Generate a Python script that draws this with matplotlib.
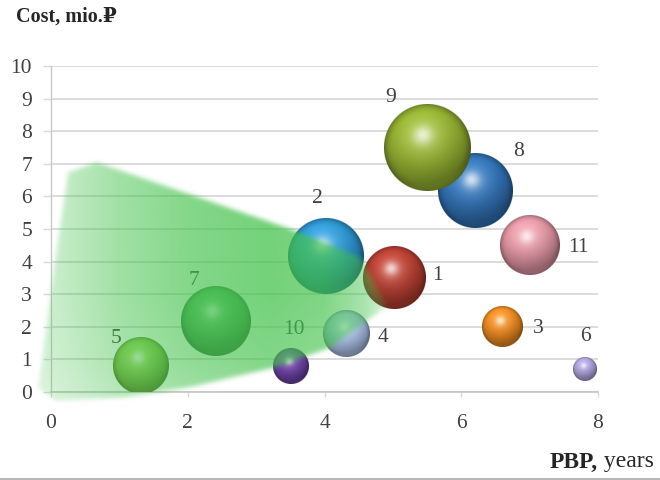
import numpy as np
import matplotlib
matplotlib.use("Agg")
import matplotlib.pyplot as plt
import matplotlib.colors as mcolors
from matplotlib.path import Path
from matplotlib.lines import Line2D

# ---- data -------------------------------------------------------------
projects = ["1", "2", "3", "4", "5", "6", "7", "8", "9", "10", "11"]
pbp_years = [5.01, 4.02, 6.61, 4.31, 1.32, 7.81, 2.41, 6.21, 5.51, 3.51, 7.00]
cost_mio = [3.51, 4.18, 2.00, 1.78, 0.80, 0.71, 2.18, 6.18, 7.51, 0.80, 4.49]
bubble_size = [5.08, 7.63, 2.22, 2.80, 4.14, 0.76, 6.47, 7.43, 10.0, 1.71, 4.66]
bubble_colors = ["#B53D30", "#2C95CF", "#E8871E", "#A8BCE2", "#8CC04C", "#A99DD6",
                 "#52A862", "#3171B4", "#92AE30", "#6B40A2", "#DE93A0"]

x_ticks = [0, 2, 4, 6, 8]
y_ticks = list(range(0, 11))

# outline of the shaded "preferred" zone
zone_x = [0.67, 3.50, 4.53, 4.92, 4.09, 3.28, 2.07, 1.08, 0.06, -0.19, 0.06, 0.25]
zone_y = [7.02, 4.98, 4.11, 2.62, 1.35, 0.74, 0.15, -0.18, -0.28, 0.12, 4.05, 6.72]

# label offsets (points) relative to each bubble centre
label_dx = [31.7, -5.8, 25.2, 26.6, -18.0, 0.0, -15.8, 31.0, -26.6, 2.2, 35.3]
label_dy = [1.4, 41.0, -1.4, -2.2, 19.4, 23.0, 28.8, 28.1, 36.0, 25.9, -1.4]

SERIF = ["Liberation Serif", "DejaVu Serif"]
R_MAX_PX = 43.5
GRID = "#D9D9D9"
TXT = "#404040"

fig = plt.figure(figsize=(6.6, 4.8), dpi=100)
ax = fig.add_axes([51 / 660, 88 / 480, 547 / 660, 326 / 480])
ax.set_xlim(0, 8)
ax.set_ylim(0, 10)

# ---- axes styling -----------------------------------------------------
ax.set_xticks(x_ticks)
ax.set_yticks(y_ticks)
ax.set_xticklabels([str(v) for v in x_ticks], family=SERIF, fontsize=15.5, color=TXT)
ax.set_yticklabels([str(v) for v in y_ticks], family=SERIF, fontsize=15.5, color=TXT)
ax.tick_params(axis="y", length=5.6, width=1.0, color=GRID, pad=8)
ax.tick_params(axis="x", length=3.8, width=1.0, color=GRID, pad=12)
ax.grid(axis="y", color=GRID, lw=1.3, zorder=0.5)
ax.set_axisbelow(True)
for side in ("top", "right"):
    ax.spines[side].set_visible(False)
ax.spines["left"].set_color("#C8C8C8")
ax.spines["bottom"].set_color("#C8C8C8")
ax.spines["left"].set_linewidth(1.0)
ax.spines["bottom"].set_linewidth(1.3)


# ---- shaded spheres ---------------------------------------------------
def sphere_image(color, n=200):
    base = np.array(mcolors.to_rgb(color))
    t = (np.arange(n) + 0.5) / n * 2 - 1
    u, v = np.meshgrid(t, -t)
    r = np.hypot(u, v)
    z = np.sqrt(np.clip(1 - r ** 2, 0, None))
    light = np.array([-0.2, 0.55, 0.81])
    light /= np.linalg.norm(light)
    ndotl = np.clip(u * light[0] + v * light[1] + z * light[2], 0, 1)
    half = light + np.array([0.0, 0.0, 1.0])
    half /= np.linalg.norm(half)
    ndoth = np.clip(u * half[0] + v * half[1] + z * half[2], 0, 1)
    shade = 0.64 + 0.46 * ndotl
    rgb = base[None, None, :] * shade[..., None]
    rim = np.clip((r - 0.8) / 0.2, 0, 1) ** 2
    rgb *= (1 - 0.22 * rim)[..., None]
    bounce = np.clip(-v - 0.35, 0, 1) * np.clip(r - 0.55, 0, 0.4) * 0.6
    rgb = rgb + (np.minimum(base * 1.15, 1) - rgb) * bounce[..., None]
    spec = 0.55 * ndoth ** 40 + 0.22 * ndoth ** 8
    rgb = rgb + (1 - rgb) * spec[..., None]
    alpha = np.clip((1 - r) * n / 2 + 0.5, 0, 1)
    return np.dstack([np.clip(rgb, 0, 1), alpha])


smax = max(bubble_size)
inv = ax.transData.inverted()
for i, (px, py, s, c) in enumerate(zip(pbp_years, cost_mio, bubble_size, bubble_colors)):
    r = R_MAX_PX * np.sqrt(s / smax)
    cx, cy = ax.transData.transform((px, py))
    x0, y0 = inv.transform((cx - r, cy - r))
    x1, y1 = inv.transform((cx + r, cy + r))
    ax.imshow(sphere_image(c), extent=[x0, x1, y0, y1], zorder=2 + i,
              aspect="auto", interpolation="antialiased")

for lab, px, py, dx, dy in zip(projects, pbp_years, cost_mio, label_dx, label_dy):
    ax.annotate(lab, (px, py), xytext=(dx, dy), textcoords="offset points",
                ha="center", va="center", family=SERIF, fontsize=15.5,
                color=TXT, zorder=20, annotation_clip=False)


# ---- translucent green zone drawn over everything ---------------------
def box_blur(a, k, axis):
    pad = k // 2
    widths = [(pad, pad) if i == axis else (0, 0) for i in range(a.ndim)]
    ap = np.pad(a, widths, mode="edge")
    c = np.cumsum(ap, axis=axis)
    c = np.insert(c, 0, 0, axis=axis)
    n = a.shape[axis]
    hi = np.take(c, np.arange(k, n + k), axis=axis)
    lo = np.take(c, np.arange(0, n), axis=axis)
    return (hi - lo) / k


gx0, gx1, gy0, gy1 = -0.6, 5.6, -0.9, 7.7
nx, ny = 840, 560
gx = np.linspace(gx0, gx1, nx)
gy = np.linspace(gy0, gy1, ny)
GX, GY = np.meshgrid(gx, gy)
zone = Path(np.column_stack([zone_x, zone_y]))
mask = zone.contains_points(np.column_stack([GX.ravel(), GY.ravel()])).reshape(ny, nx).astype(float)
for _ in range(3):
    mask = box_blur(mask, 9, 0)
    mask = box_blur(mask, 9, 1)

a_x = np.interp(GX, [-0.3, 0.2, 1.0, 2.0, 3.2, 4.0, 4.6, 5.0],
                [0.22, 0.32, 0.5, 0.65, 0.74, 0.68, 0.45, 0.12])
a_y = np.interp(GY, [-0.4, 1.0, 3.0], [0.72, 0.9, 1.0])
green = np.array(mcolors.to_rgb("#42C24A"))
zone_img = np.zeros((ny, nx, 4))
zone_img[..., :3] = green
zone_img[..., 3] = mask * a_x * a_y
im = ax.imshow(zone_img, extent=[gx0, gx1, gy0, gy1], origin="lower",
               zorder=30, aspect="auto", interpolation="bilinear")
im.set_clip_on(False)

ax.set_xlim(0, 8)
ax.set_ylim(0, 10)

# ---- axis titles ------------------------------------------------------
fig.text(16 / 660, 1 - 17 / 480, "Cost, mio.\u20bd", ha="left", va="center",
         family=SERIF, fontsize=14.5, fontweight="bold", color="#262626")
t1 = fig.text(550 / 660, 1 - 462 / 480, "PBP,", ha="left", va="center",
              family=SERIF, fontsize=17, fontweight="bold", color="#262626")
ax.annotate(" years", xy=(1, 0), xycoords=t1, ha="left", va="bottom",
            family=SERIF, fontsize=17, color="#262626", annotation_clip=False)

fig.add_artist(Line2D([0, 1], [1.5 / 480, 1.5 / 480], transform=fig.transFigure,
                      color="#A8A8A8", lw=1.2))

fig.savefig("out.png", dpi=100)
